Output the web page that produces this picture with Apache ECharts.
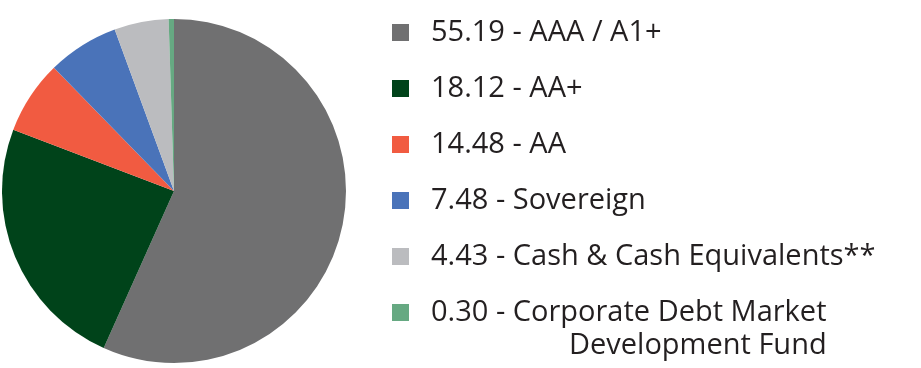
<!DOCTYPE html>
<html>
<head>
<meta charset="utf-8">
<script src="https://cdn.jsdelivr.net/npm/echarts@6/dist/echarts.min.js"></script>
<style>html,body{margin:0;padding:0;background:#fff}#c{width:921px;height:368px}</style>
</head>
<body>
<div id="c"></div>
<script>
// Categories and legend values (as printed)
const categories = ['AAA / A1+', 'AA+', 'AA', 'Sovereign', 'Cash & Cash Equivalents**', 'Corporate Debt Market'];
const labelValues = ['55.19', '18.12', '14.48', '7.48', '4.43', '0.30'];
// Slice sizes (degrees converted to %)
const sliceShares = [56.7, 24.1, 6.9, 6.7, 5.1, 0.5];
const colors = ['#707071', '#00431a', '#f15b41', '#4a73b9', '#bbbcbf', '#66a982'];
const extraLine = 'Development Fund';

const names = categories.map((c, i) => labelValues[i] + ' - ' + c);
const chart = echarts.init(document.getElementById('c'), null, {renderer: 'canvas'});
const FONT = 'Open Sans';
const FS = 29;
chart.setOption({
  animation: false,
  color: colors,
  legend: {
    orient: 'vertical', left: 387, top: 10.5,
    itemWidth: 17, itemHeight: 17, itemGap: 22,
    icon: 'rect',
    selectedMode: false,
    data: names,
    textStyle: {
      color: '#231f20', fontFamily: FONT, fontSize: FS, lineHeight: 34,
      padding: [0, 0, 0, 17]
    }
  },
  graphic: [{
    type: 'text',
    left: 569, top: 329,
    style: {text: extraLine, fill: '#231f20', font: FS + 'px "' + FONT + '"', lineHeight: 34}
  }],
  series: [{
    type: 'pie',
    center: [174, 191],
    radius: 172,
    startAngle: 90,
    clockwise: true,
    label: {show: false},
    labelLine: {show: false},
    emphasis: {disabled: true},
    itemStyle: {borderWidth: 0},
    data: names.map((n, i) => ({name: n, value: sliceShares[i]}))
  }]
});
</script>
</body>
</html>
